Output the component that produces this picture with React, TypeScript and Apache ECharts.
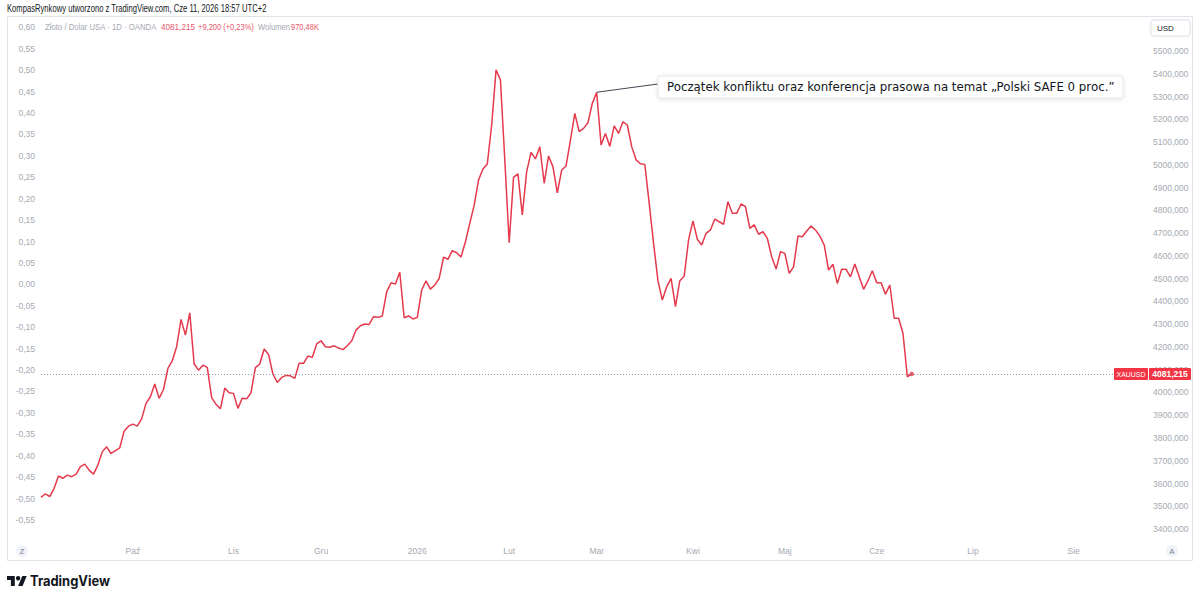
import React, { useEffect, useRef } from 'react';
import * as echarts from 'echarts';

// ---- data ----
// bar index 0 = first trading day of October 2025 (daily bars, XAUUSD OANDA)
const startBar = -21;
const lastAxisBar = 232;
const closes: number[] = [
  3539, 3555, 3542, 3579, 3633, 3623, 3637, 3630, 3640, 3674,
  3685, 3659, 3641, 3681, 3739, 3761, 3732, 3744, 3757, 3830,
  3852, 3861, 3852, 3884, 3952, 3981, 4037, 3974, 4014, 4106,
  4139, 4201, 4321, 4252, 4350, 4125, 4098, 4120, 4110, 3977,
  3948, 3928, 4019, 3999, 3996, 3930, 3975, 3972, 3999, 4109,
  4125, 4191, 4167, 4081, 4044, 4066, 4075, 4073, 4062, 4128,
  4128, 4160, 4154, 4213, 4227, 4201, 4199, 4205, 4195, 4188,
  4205, 4226, 4274, 4293, 4301, 4299, 4333, 4330, 4336, 4442,
  4482, 4476, 4528, 4328, 4336, 4323, 4330, 4450, 4490, 4454,
  4472, 4501, 4594, 4585, 4623, 4614, 4595, 4662, 4743, 4823,
  4933, 4982, 5004, 5175, 5417, 5373, 5021, 4658, 4945, 4960,
  4780, 4970, 5055, 5026, 5080, 4919, 5039, 4992, 4877, 4977,
  4995, 5109, 5226, 5146, 5160, 5185, 5270, 5319, 5087, 5138,
  5081, 5171, 5138, 5189, 5175, 5080, 5022, 5005, 5002, 4831,
  4655, 4491, 4406, 4464, 4501, 4377, 4491, 4511, 4670, 4754,
  4673, 4648, 4699, 4714, 4762, 4750, 4739, 4838, 4787, 4787,
  4828, 4816, 4721, 4736, 4695, 4706, 4677, 4596, 4542, 4618,
  4611, 4523, 4552, 4687, 4684, 4709, 4731, 4714, 4687, 4648,
  4538, 4563, 4479, 4541, 4541, 4508, 4564, 4508, 4453, 4491,
  4535, 4482, 4482, 4432, 4472, 4326, 4326, 4260, 4069, 4081.215,
];
const monthLabels: [string, number][] = [
  ['Paź', 0], ['Lis', 23], ['Gru', 43], ['2026', 65], ['Lut', 86], ['Mar', 106],
  ['Kwi', 128], ['Maj', 149], ['Cze', 170], ['Lip', 192], ['Sie', 215],
];
const headerText = 'KompasRynkowy utworzono z TradingView.com, Cze 11, 2026 18:57 UTC+2';
const legendName = 'Złoto / Dolar USA · 1D · OANDA';
const legendPrice = '4081,215';
const legendChange = '+9,200 (+0,23%)';
const legendVolLabel = 'Wolumen';
const legendVol = '970,48K';
const symbolName = 'XAUUSD';
const currency = 'USD';
const annotationBar = 106;
const annotationText = 'Początek konfliktu oraz konferencja prasowa na temat „Polski SAFE 0 proc.”';

const LOGO_D = 'M14 22H7V11H0V4h14v18zM28 22h-8l7.5-18h8L28 22z';
let logoRegistered = false;

function measure(text: string, font: string): number {
  const c = document.createElement('canvas').getContext('2d');
  if (!c) return 0;
  c.font = font;
  return c.measureText(text).width;
}

export default function App() {
  const ref = useRef<HTMLDivElement>(null);
  useEffect(() => {
    if (!logoRegistered) {
      echarts.graphic.registerShape('tvlogo', echarts.graphic.extendPath(LOGO_D, {}) as any);
      logoRegistered = true;
    }
    const el = ref.current!;
    const chart = echarts.init(el, null, { renderer: 'svg', width: 1200, height: 600 });
    const cats: string[] = [];
    for (let b = startBar; b <= lastAxisBar; b++) cats.push(String(b));
    const labelMap: Record<string, string> = {};
    monthLabels.forEach(([n, b]) => { labelMap[String(b)] = n; });
    const lineData = closes.map((v, k) => [k, v]);
    const lastIdx = closes.length - 1;
    const last = closes[lastIdx];

    const FONT = "'Liberation Sans', Arial, sans-serif";
    const GRAY = '#a6a9b2';
    const RED = '#e5394c';
    const LRED = '#e8596a';
    const TEXT = '#131722';
    const AX = 8.5;

    chart.setOption({
      animation: false,
      grid: [
        { left: 41, right: 52, top: 5.5, bottom: 48.2 },
        { left: 41, right: 52, top: 5.9, bottom: 58.6 },
      ],
      xAxis: [
        { type: 'category', gridIndex: 0, data: cats, boundaryGap: false, show: false },
        {
          type: 'category', gridIndex: 1, data: cats, boundaryGap: false,
          axisLine: { show: false }, axisTick: { show: false }, splitLine: { show: false },
          axisLabel: {
            interval: 0, margin: 5, color: GRAY, fontSize: AX, fontFamily: FONT,
            formatter: (v: string) => labelMap[v] || '',
          },
        },
      ],
      yAxis: [
        {
          type: 'value', gridIndex: 0, position: 'right', min: 3300, max: 5700, interval: 100,
          axisLine: { show: false }, axisTick: { show: false }, splitLine: { show: false },
          axisLabel: {
            margin: 5, color: GRAY, fontSize: AX, fontFamily: FONT,
            formatter: (v: number) => (v < 3400 || v > 5500 ? '' : v.toFixed(3).replace('.', ',')),
          },
        },
        {
          type: 'value', gridIndex: 1, position: 'left', min: -0.6, max: 0.65, interval: 0.05,
          axisLine: { show: false }, axisTick: { show: false }, splitLine: { show: false },
          axisLabel: {
            margin: 6, color: GRAY, fontSize: AX, fontFamily: FONT,
            formatter: (v: number) => {
              if (v < -0.551 || v > 0.601) return '';
              const r = Math.abs(v) < 1e-9 ? 0 : v;
              return r.toFixed(2).replace('.', ',');
            },
          },
        },
      ],
      series: [
        {
          type: 'line', xAxisIndex: 0, yAxisIndex: 0, data: lineData, showSymbol: false,
          lineStyle: { color: RED, width: 1.5 }, itemStyle: { color: RED }, z: 3, silent: true,
          markLine: {
            silent: true, symbol: ['none', 'none'], label: { show: false },
            lineStyle: { color: '#9598a1', type: [1, 2], width: 1 },
            data: [{ yAxis: last }],
          },
        },
        {
          type: 'scatter', xAxisIndex: 0, yAxisIndex: 0, data: [[lastIdx, last]],
          symbolSize: 4.5, itemStyle: { color: RED }, z: 4, silent: true,
        },
      ],
    });

    const annIdx = annotationBar - startBar;
    const [ax, ay] = chart.convertToPixel({ seriesIndex: 0 }, [annIdx, closes[annIdx]]) as number[];
    const [, ly] = chart.convertToPixel({ seriesIndex: 0 }, [lastIdx, last]) as number[];

    const fit = (text: string, font: string, target: number) => {
      const w = measure(text, font);
      return w > 0 ? target / w : 1;
    };
    const legFontPx = 9.5;
    const legFont = `${legFontPx}px ${FONT}`;
    const headerScale = fit(headerText, `10px ${FONT}`, 260);
    const annFamily = "'DejaVu Sans Condensed', 'DejaVu Sans', sans-serif";
    const annScale = fit(annotationText, `13px ${annFamily}`, 448);
    const logoFamily = "Inter, 'Noto Sans', sans-serif";
    const logoScale = fit('TradingView', `bold 14px ${logoFamily}`, 80);
    const tagScale = fit(symbolName, `8px ${FONT}`, 29);

    const legendItems: [string, number, number, string][] = [
      [legendName, 45, 112, GRAY],
      [legendPrice, 161, 34, LRED],
      [legendChange, 198, 56, LRED],
      [legendVolLabel, 258, 32, GRAY],
      [legendVol, 291, 28, LRED],
    ];
    const legendGraphics = legendItems.map(([t, x, w, c]) => ({
      type: 'text', z: 100, x, y: 27, scaleX: fit(t, legFont, w),
      style: { text: t, fill: c, fontSize: legFontPx, fontFamily: FONT, align: 'left', verticalAlign: 'middle' },
    }));

    const s = 10 / 18;
    const logoX = 7;
    const logoY = 576 - 4 * s;

    chart.setOption({
      graphic: [
        { type: 'rect', z: 100, shape: { x: 7.5, y: 16.5, width: 1185, height: 544 }, style: { fill: 'none', stroke: '#e0e3eb', lineWidth: 1 } },
        { type: 'text', z: 100, x: 7, y: 9, scaleX: headerScale, style: { text: headerText, fill: TEXT, fontSize: 10, fontFamily: FONT, align: 'left', verticalAlign: 'middle' } },
        ...legendGraphics,
        // currency box
        { type: 'rect', z: 100, shape: { x: 1151, y: 20, width: 39, height: 16, r: 3 }, style: { fill: '#ffffff', stroke: '#e0e3eb', lineWidth: 1, shadowBlur: 2, shadowColor: 'rgba(0,0,0,0.08)' } },
        { type: 'text', z: 101, x: 1157, y: 28.5, style: { text: currency, fill: TEXT, fontSize: 8, fontFamily: FONT, align: 'left', verticalAlign: 'middle' } },
        // last price tag
        { type: 'rect', z: 100, shape: { x: 1114, y: ly - 6, width: 34, height: 12, r: 1 }, style: { fill: '#f23645' } },
        { type: 'text', z: 101, x: 1116.5, y: ly + 0.5, scaleX: tagScale, style: { text: symbolName, fill: '#ffffff', fontSize: 8, fontFamily: FONT, align: 'left', verticalAlign: 'middle' } },
        { type: 'rect', z: 100, shape: { x: 1149, y: ly - 6, width: 42, height: 12, r: 1 }, style: { fill: '#f23645' } },
        { type: 'text', z: 101, x: 1170, y: ly + 0.5, style: { text: legendPrice, fill: '#ffffff', fontSize: 8.5, fontWeight: 'bold', fontFamily: FONT, align: 'center', verticalAlign: 'middle' } },
        // Z / A buttons
        { type: 'circle', z: 100, shape: { cx: 22, cy: 551, r: 6 }, style: { fill: '#f0f3fa' } },
        { type: 'text', z: 101, x: 22, y: 551.5, style: { text: 'Z', fill: '#787b86', fontSize: 7.5, fontFamily: FONT, align: 'center', verticalAlign: 'middle' } },
        { type: 'circle', z: 100, shape: { cx: 1172, cy: 551, r: 6 }, style: { fill: '#f0f3fa' } },
        { type: 'text', z: 101, x: 1172, y: 551.5, style: { text: 'A', fill: '#787b86', fontSize: 7.5, fontFamily: FONT, align: 'center', verticalAlign: 'middle' } },
        // annotation
        { type: 'line', z: 100, shape: { x1: ax, y1: ay, x2: 658, y2: 84 }, style: { stroke: '#434651', lineWidth: 1 } },
        { type: 'rect', z: 100, shape: { x: 658, y: 76, width: 465, height: 22, r: 2 }, style: { fill: '#ffffff', stroke: '#e6e8ee', lineWidth: 1, shadowBlur: 4, shadowColor: 'rgba(0,0,0,0.12)', shadowOffsetY: 1 } },
        { type: 'text', z: 101, x: 667, y: 87, scaleX: annScale, style: { text: annotationText, fill: TEXT, fontSize: 13, fontFamily: annFamily, align: 'left', verticalAlign: 'middle' } },
        // TradingView logo
        { type: 'tvlogo', z: 100, x: logoX, y: logoY, scaleX: s, scaleY: s, style: { fill: TEXT } },
        { type: 'circle', z: 100, shape: { cx: logoX + 20 * s, cy: logoY + 8 * s, r: 4 * s }, style: { fill: TEXT } },
        { type: 'text', z: 100, x: 30, y: 581, scaleX: logoScale, style: { text: 'TradingView', fill: TEXT, fontSize: 14, fontWeight: 'bold', fontFamily: logoFamily, align: 'left', verticalAlign: 'middle' } },
      ],
    });

    return () => { chart.dispose(); };
  }, []);
  return <div ref={ref} style={{ position: 'absolute', left: 0, top: 0, width: 1200, height: 600, background: '#ffffff' }} />;
}
